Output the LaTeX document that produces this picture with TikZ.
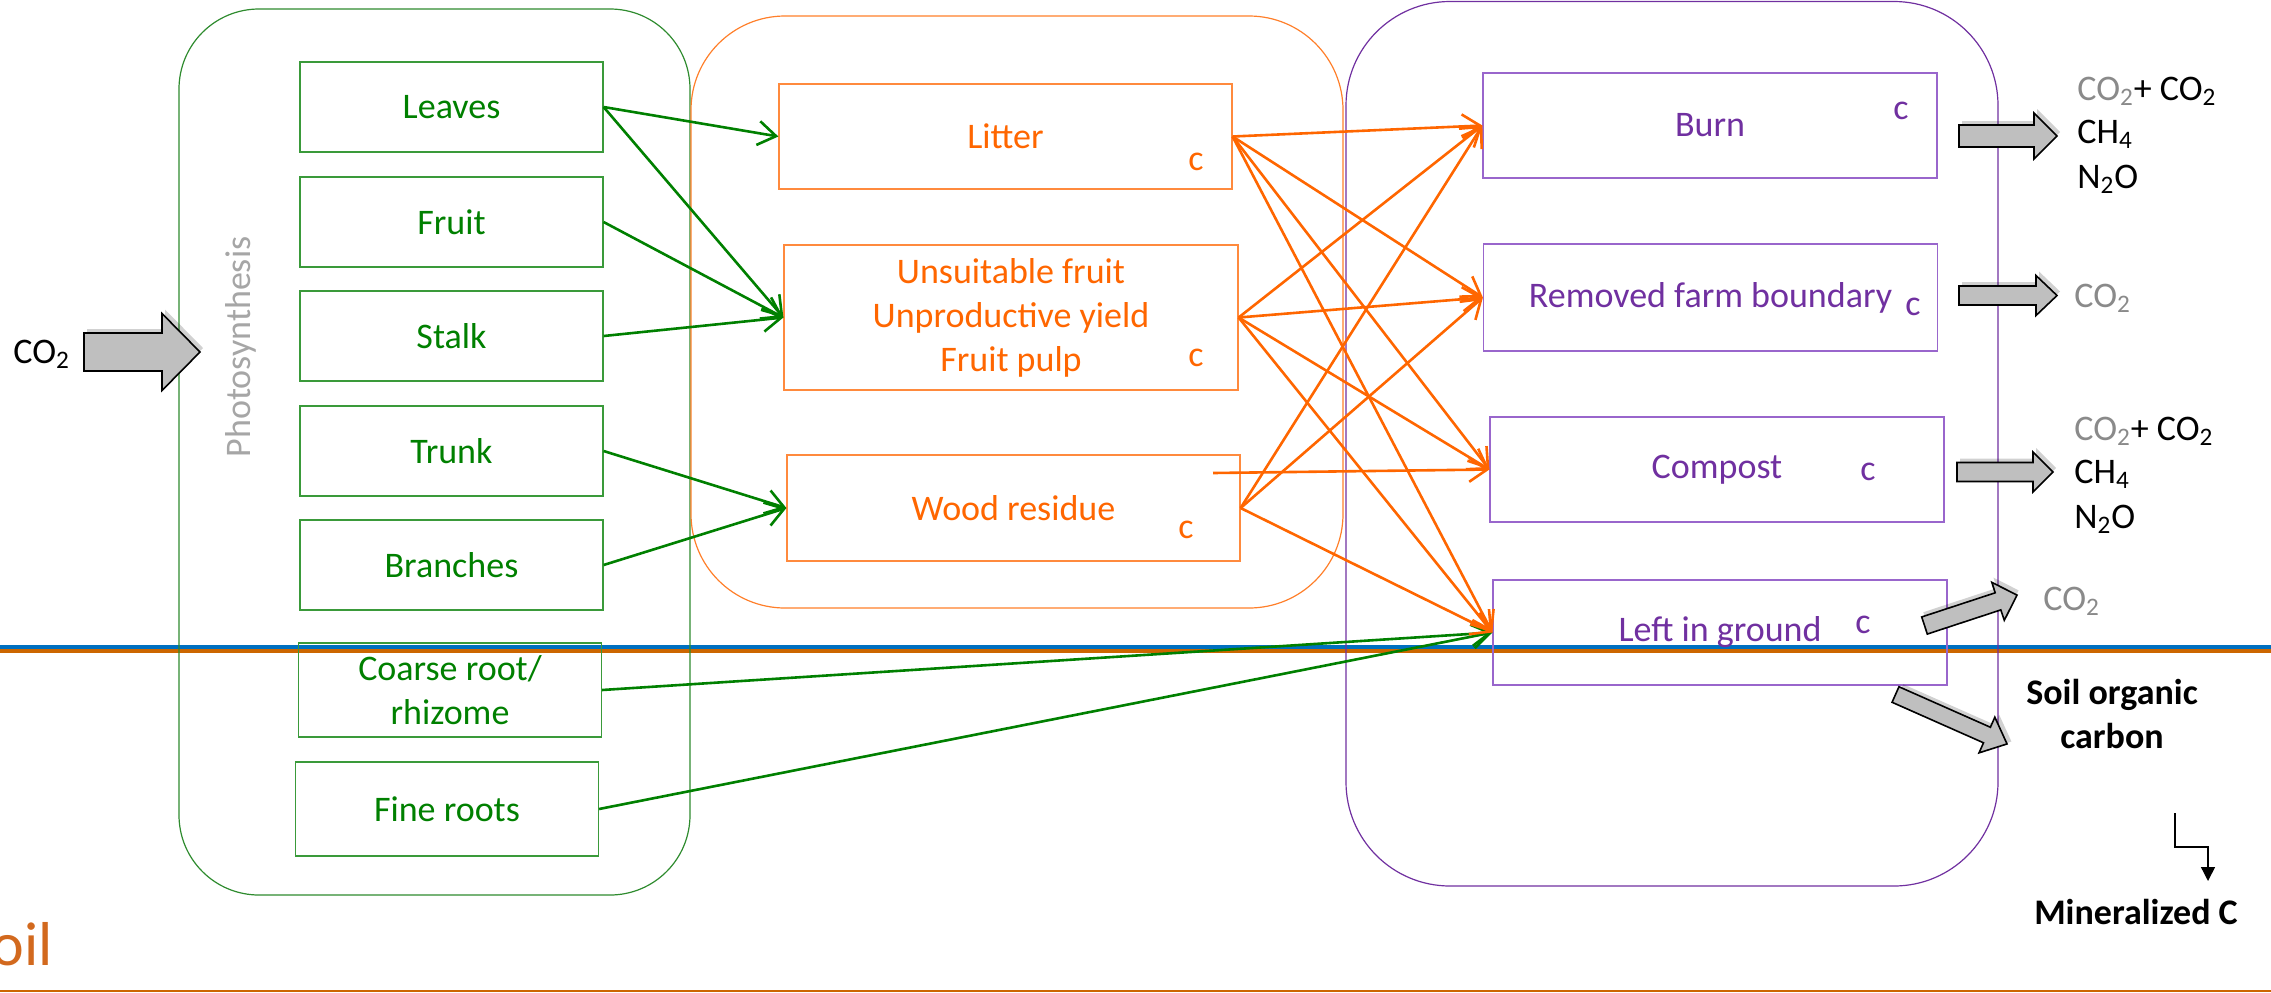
\documentclass[tikz,border=0pt]{standalone}
\usepackage{fontspec}
\setmainfont{Carlito}
\usetikzlibrary{arrows.meta}
\definecolor{gtxt}{HTML}{008000}
\definecolor{gbord}{HTML}{3A9A3A}
\definecolor{gcont}{HTML}{2E8B2E}
\definecolor{otxt}{HTML}{FF6600}
\definecolor{obord}{HTML}{FF8A3D}
\definecolor{ocont}{HTML}{FF7F2A}
\definecolor{ptxt}{HTML}{7030A0}
\definecolor{pbord}{HTML}{9966CC}
\definecolor{grtxt}{HTML}{8A8A8A}
\definecolor{phgray}{HTML}{A6A6A6}
\definecolor{blueln}{HTML}{0070C0}
\definecolor{orangeln}{HTML}{CC6600}
\definecolor{soilc}{HTML}{D2691E}
\definecolor{arrfill}{HTML}{BFBFBF}
\newcommand\blockarrow[7]{%
  \begin{scope}[shift={(#1,#2)}, rotate=#3]
    \fill[black, opacity=0.18] (3,-#5/2-4) -- (#4-#7+3,-#5/2-4) -- (#4-#7+3,-#6/2-4) -- (#4+3,-4) -- (#4-#7+3,#6/2-4) -- (#4-#7+3,#5/2-4) -- (3,#5/2-4) -- cycle;
    \draw[fill=arrfill, line width=0.8pt, line join=miter] (0,-#5/2) -- (#4-#7,-#5/2) -- (#4-#7,-#6/2) -- (#4,0) -- (#4-#7,#6/2) -- (#4-#7,#5/2) -- (0,#5/2) -- cycle;
  \end{scope}}
\begin{document}
\begin{tikzpicture}[x=0.5pt, y=-0.5pt, font=\fontsize{18}{22}\selectfont,
  gbox/.style={draw=gbord, line width=0.6pt, minimum width=151.5pt, minimum height=45pt, inner sep=0pt, text=gtxt, align=center},
  obox/.style={draw=obord, line width=0.6pt, inner sep=0pt, text=otxt, align=center},
  pbox/.style={draw=pbord, line width=0.6pt, inner sep=0pt, text=ptxt, align=center, minimum width=227pt, minimum height=52.5pt},
  garr/.style={draw=gtxt, line width=1.3pt, -{Straight Barb[length=9pt,width=12pt]}},
  oarr/.style={draw=otxt, line width=1.3pt, -{Straight Barb[length=9pt,width=12pt]}},
  ctag/.style={inner sep=0pt},
  txt/.style={inner sep=0pt, anchor=base west},
  bold/.style={inner sep=0pt, font=\fontsize{18}{22}\selectfont\bfseries, align=center, anchor=base}]
\useasboundingbox (0,0) rectangle (2271,992);
\clip (0,0) rectangle (2271,992);

% ground lines
\draw[line width=2pt, blueln] (0,646.5) -- (2271,646.5);
\draw[line width=2pt, orangeln] (0,650.8) -- (2271,650.8);
\draw[line width=1pt, orangeln] (0,990.5) -- (2271,990.5);

% containers
\draw[gcont, line width=0.6pt, rounded corners=40pt] (179,9) rectangle (690,895);
\draw[ocont, line width=0.6pt, rounded corners=47pt] (691,16) rectangle (1343,608);
\draw[ptxt, line width=0.6pt, rounded corners=52pt] (1346,1.5) rectangle (1998,886);

% left side
\node[rotate=90, text=phgray] (photo) at (241,347) {Photosynthesis};
\node[txt] (co2in) at (13,363) {CO\textsubscript{2}};
\blockarrow{84}{352}{0}{116}{38}{77}{38}
\node[anchor=base east, inner sep=0pt, font=\fontsize{31}{36}\selectfont, text=soilc] (soil) at (53,965) {Soil};

% green boxes
\node[gbox] (leaves) at (451.5,107) {Leaves};
\node[gbox] (fruit) at (451.5,222) {Fruit};
\node[gbox] (stalk) at (451.5,336) {Stalk};
\node[gbox] (trunk) at (451.5,451) {Trunk};
\node[gbox] (branches) at (451.5,565) {Branches};
\node[gbox, minimum height=47pt] (coarse) at (450,690) {Coarse root/\\rhizome};
\node[gbox, minimum height=47pt] (fine) at (447,809) {Fine roots};

% orange boxes
\node[obox, minimum width=226.5pt, minimum height=52.5pt] (litter) at (1005.5,136.5) {Litter};
\node[obox, minimum width=227pt, minimum height=72.5pt] (unsuit) at (1011,317.5) {Unsuitable fruit\\Unproductive yield\\Fruit pulp};
\node[obox, minimum width=226.5pt, minimum height=53pt] (wood) at (1013.5,508) {Wood residue};
\node[ctag, text=otxt] (c1) at (1196,162) {c};
\node[ctag, text=otxt] (c2) at (1196,358) {c};
\node[ctag, text=otxt] (c3) at (1186,530) {c};

% purple boxes
\node[pbox] (burn) at (1710,125.5) {Burn};
\node[pbox, minimum height=53.5pt] (removed) at (1710.5,297.5) {Removed farm boundary};
\node[pbox] (compost) at (1717,469.5) {Compost};
\node[pbox] (lig) at (1720,632.5) {Left in ground};
\node[ctag, text=ptxt] (c4) at (1901,111) {c};
\node[ctag, text=ptxt] (c5) at (1913,307) {c};
\node[ctag, text=ptxt] (c6) at (1868,472) {c};
\node[ctag, text=ptxt] (c7) at (1863,625) {c};

% green connectors
\draw[garr] (leaves.east) -- (litter.west);
\draw[garr] (leaves.east) -- (unsuit.west);
\draw[garr] (fruit.east) -- (unsuit.west);
\draw[garr] (stalk.east) -- (unsuit.west);
\draw[garr] (trunk.east) -- (wood.west);
\draw[garr] (branches.east) -- (wood.west);
\draw[garr] (coarse.east) -- (lig.west);
\draw[garr] (fine.east) -- (lig.west);

% orange connectors
\coordinate (wstray) at (1213,473);
\foreach \s in {litter,unsuit}{
  \foreach \t in {burn,removed,compost,lig}{
    \draw[oarr] (\s.east) -- (\t.west);
  }
}
\draw[oarr] (wood.east) -- (burn.west);
\draw[oarr] (wood.east) -- (removed.west);
\draw[oarr] (wood.east) -- (lig.west);
\draw[oarr] (wstray) -- (compost.west);

% output arrows
\blockarrow{1959}{136}{0}{98}{22}{46}{23}
\blockarrow{1959}{295.5}{0}{98}{19}{40}{21}
\blockarrow{1957}{472}{0}{96}{19}{40}{20}
\blockarrow{1924.5}{625.5}{18.2}{97.4}{18}{40}{20}
\blockarrow{1895.5}{694.5}{-23.9}{122}{17}{39}{22}

% output texts
\node[txt] (bo1) at (2077,100) {\textcolor{grtxt}{CO\textsubscript{2}}+ CO\textsubscript{2}};
\node[txt] (bo2) at (2077,143) {CH\textsubscript{4}};
\node[txt] (bo3) at (2077,188) {N\textsubscript{2}O};
\node[txt, text=grtxt] (ro1) at (2074,307) {CO\textsubscript{2}};
\node[txt] (co1) at (2074,440) {\textcolor{grtxt}{CO\textsubscript{2}}+ CO\textsubscript{2}};
\node[txt] (co2) at (2074,483) {CH\textsubscript{4}};
\node[txt] (co3) at (2074,528) {N\textsubscript{2}O};
\node[txt, text=grtxt] (lo1) at (2043,610) {CO\textsubscript{2}};
\node[bold] (soc) at (2112,748) {Soil organic\\carbon};
\node[bold] (mineral) at (2136,924) {Mineralized C};
\coordinate (e1) at (2175,813);
\coordinate (e2) at (2208,881);
\draw[line width=0.7pt, -{Triangle[length=7pt,width=7pt]}] (e1) -- ++(0,34) -| (e2);
\end{tikzpicture}
\end{document}
